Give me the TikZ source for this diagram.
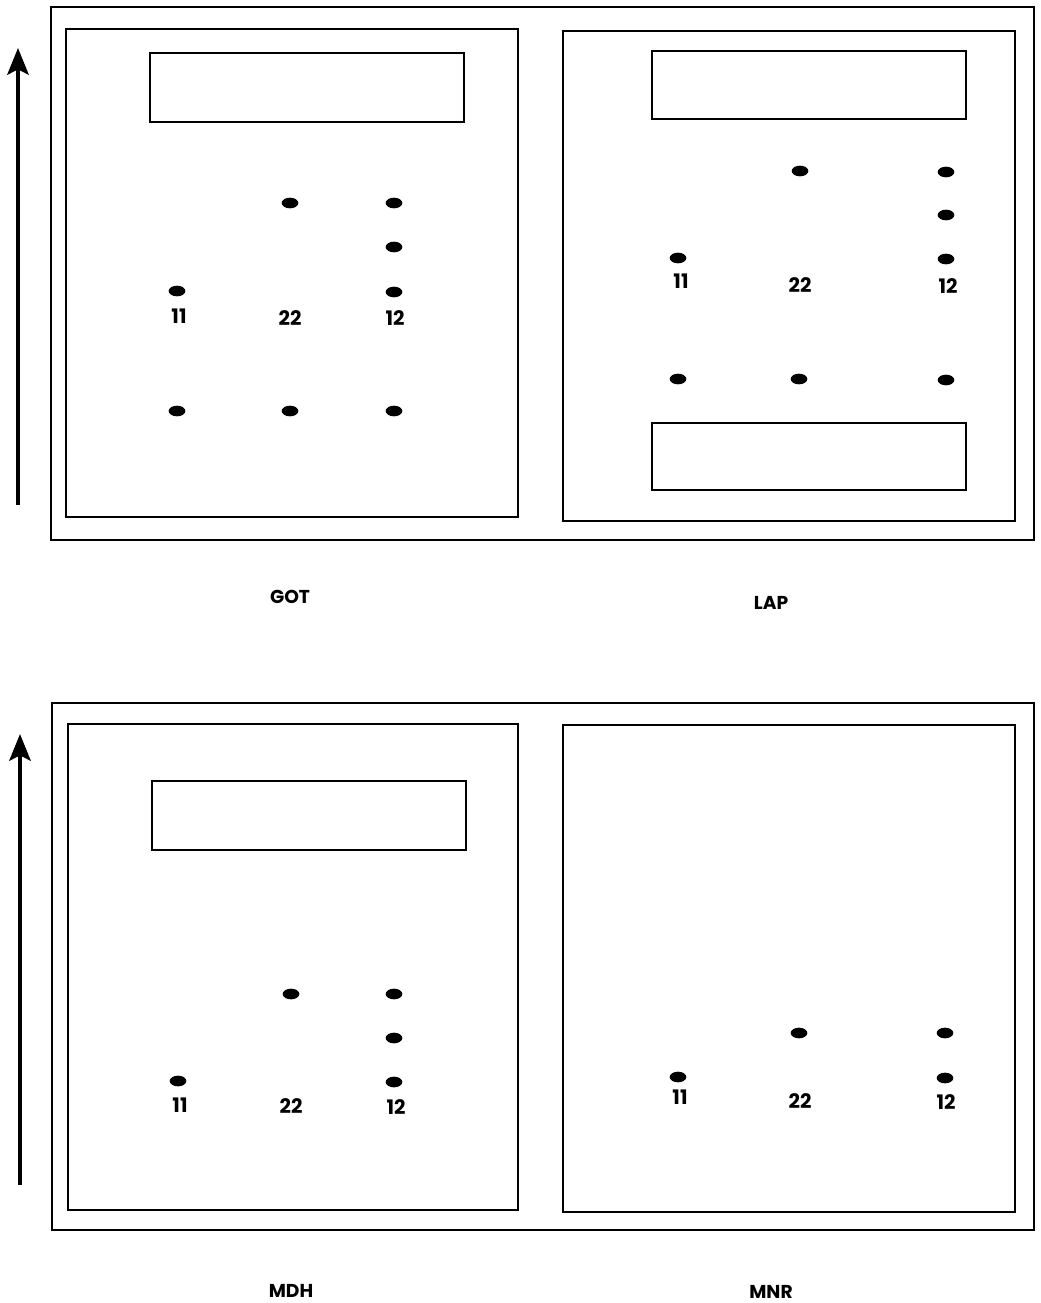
\documentclass[tikz,border=0pt]{standalone}
\usepackage{fontspec}
\setmainfont{Poppins}
\usetikzlibrary{shapes.geometric,arrows.meta}
\begin{document}
\begin{tikzpicture}[x=0.75pt,y=-0.75pt,
  frame/.style={draw=black,line width=1.4pt},
  box/.style={draw=black,line width=1.2pt},
  dot/.style={ellipse,fill=black,minimum width=12.5pt,minimum height=8pt,inner sep=0pt},
  num/.style={font=\fontsize{15}{17}\selectfont\bfseries,inner sep=0pt},
  lab/.style={font=\fontsize{14}{16}\selectfont\bfseries,inner sep=0pt},
  axis/.style={line width=3pt,-{Stealth[length=20pt,width=16pt,inset=4pt]}}]
\useasboundingbox (0,0) rectangle (1041,1303);
% ---------- top row ----------
\draw[frame] (51,7) rectangle (1034,540);
\draw[frame] (66,29) rectangle (518,517);
\draw[frame] (563,31) rectangle (1015,521);
\draw[box] (150,53) rectangle (464,122);
\draw[box] (652,51) rectangle (966,119);
\draw[box] (652,423) rectangle (966,490);
\coordinate (a1s) at (18,505);
\coordinate (a1e) at (18,48);
\draw[axis] (a1s) -- (a1e);
% GOT dots
\node[dot] (g22a) at (290,203) {};
\node[dot] (g12a) at (394,203) {};
\node[dot] (g12b) at (394,247) {};
\node[dot] (g11) at (177,291) {};
\node[dot] (g12c) at (394,292) {};
\node[num] (g11l) at (179,316) {11};
\node[num] (g22l) at (290,318) {22};
\node[num] (g12l) at (395,318) {12};
\node[dot] (g1) at (177,411) {};
\node[dot] (g2) at (290,411) {};
\node[dot] (g3) at (394,411) {};
% LAP dots
\node[dot] (l22a) at (800,171) {};
\node[dot] (l12a) at (946,172) {};
\node[dot] (l12b) at (946,215) {};
\node[dot] (l11) at (678,258) {};
\node[dot] (l12c) at (946,259) {};
\node[num] (l11l) at (681,281) {11};
\node[num] (l22l) at (800,285) {22};
\node[num] (l12l) at (948,286) {12};
\node[dot] (l1) at (678,379) {};
\node[dot] (l2) at (799,379) {};
\node[dot] (l3) at (946,380) {};
\node[lab] (got) at (290,597) {GOT};
\node[lab] (lap) at (771,603) {LAP};
% ---------- bottom row ----------
\draw[frame] (52,703) rectangle (1034,1230);
\draw[frame] (68,724) rectangle (518,1210);
\draw[frame] (563,725) rectangle (1015,1212);
\draw[box] (152,781) rectangle (466,850);
\coordinate (a2s) at (20,1185);
\coordinate (a2e) at (20,734);
\draw[axis] (a2s) -- (a2e);
% MDH dots
\node[dot] (m22a) at (291,994) {};
\node[dot] (m12a) at (394,994) {};
\node[dot] (m12b) at (394,1038) {};
\node[dot] (m11) at (178,1081) {};
\node[dot] (m12c) at (394,1082) {};
\node[num] (m11l) at (180,1105) {11};
\node[num] (m22l) at (291,1106) {22};
\node[num] (m12l) at (396,1107) {12};
% MNR dots
\node[dot] (n22a) at (799,1033) {};
\node[dot] (n12a) at (945,1033) {};
\node[dot] (n11) at (678,1077) {};
\node[dot] (n12c) at (945,1078) {};
\node[num] (n11l) at (680,1097) {11};
\node[num] (n22l) at (800,1101) {22};
\node[num] (n12l) at (946,1102) {12};
\node[lab] (mdh) at (291,1291) {MDH};
\node[lab] (mnr) at (771,1292) {MNR};
\end{tikzpicture}
\end{document}
